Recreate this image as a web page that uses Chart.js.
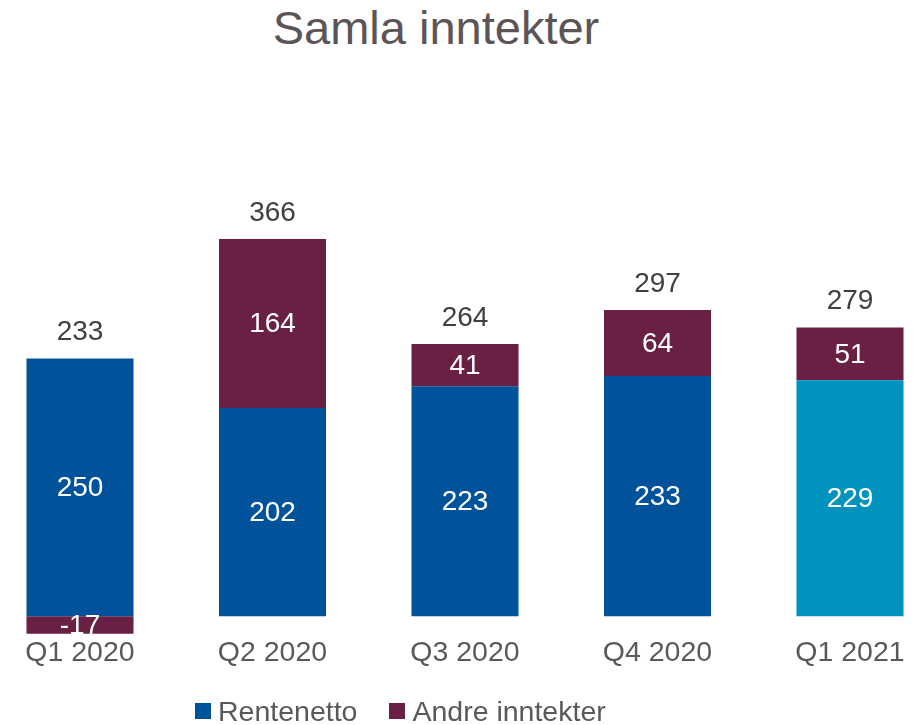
<!DOCTYPE html>
<html lang="no">
<head>
  <meta charset="UTF-8" />
  <title>Samla inntekter</title>
  <script src="https://cdn.jsdelivr.net/npm/chart.js"></script>
  <style>
    body {
      margin: 0;
      font-family: "Liberation Sans", Arial, sans-serif;
      background: #fff;
    }
    #wrap {
      position: relative;
      width: 920px;
      height: 725px;
    }
    #tittel {
      position: absolute;
      left: 0;
      top: 4px;
      width: 872px;
      text-align: center;
      font-size: 47px;
      line-height: 48px;
      color: #5b5557;
      margin: 0;
      font-weight: normal;
    }
    #grafikk {
      position: absolute;
      left: 0;
      top: 0;
    }
    #forklaring {
      position: absolute;
      left: 195px;
      top: 694px;
      display: flex;
      align-items: center;
      font-size: 28.5px;
      color: #595959;
      line-height: 34px;
    }
    #forklaring span.boks {
      display: inline-block;
      width: 16px;
      height: 16px;
      margin-right: 7px;
    }
    #forklaring .post {
      display: flex;
      align-items: center;
      margin-right: 32px;
    }
  </style>
</head>
<body>
  <div id="wrap">
    <h1 id="tittel">Samla inntekter</h1>
    <canvas id="grafikk" width="920" height="725"></canvas>
    <div id="forklaring"></div>
  </div>

  <script>
    const kvartal = ['Q1 2020', 'Q2 2020', 'Q3 2020', 'Q4 2020', 'Q1 2021'];
    const rentenetto = [250, 202, 223, 233, 229];
    const andreInntekter = [-17, 164, 41, 64, 51];
    const totalt = [233, 366, 264, 297, 279];
    const serieNavn = ['Rentenetto', 'Andre inntekter'];

    const blaa = '#00529b';
    const lyseblaa = '#0093be';
    const vinrod = '#6a1f45';

    // verdier i søylene og totalsum over
    const etiketter = {
      id: 'etiketter',
      afterDatasetsDraw(chart) {
        const ctx = chart.ctx;
        ctx.save();
        ctx.textAlign = 'center';
        ctx.textBaseline = 'middle';
        ctx.font = '28px "Liberation Sans", Arial, sans-serif';
        ctx.fillStyle = '#ffffff';
        chart.data.datasets.forEach((ds, i) => {
          chart.getDatasetMeta(i).data.forEach((el, j) => {
            ctx.fillText(ds.data[j], el.x, (el.y + el.base) / 2 + 1);
          });
        });
        ctx.fillStyle = '#404040';
        totalt.forEach((v, j) => {
          let topp = Infinity;
          chart.data.datasets.forEach((ds, i) => {
            const el = chart.getDatasetMeta(i).data[j];
            topp = Math.min(topp, el.y, el.base);
          });
          ctx.fillText(v, chart.getDatasetMeta(0).data[j].x, topp - 26);
        });
        ctx.restore();
      }
    };

    const chart = new Chart(document.getElementById('grafikk').getContext('2d'), {
      type: 'bar',
      data: {
        labels: kvartal,
        datasets: [{
          label: serieNavn[0],
          data: rentenetto,
          backgroundColor: (c) => c.dataIndex === 4 ? lyseblaa : blaa,
          categoryPercentage: 0.556,
          barPercentage: 1,
          clip: false
        }, {
          label: serieNavn[1],
          data: andreInntekter,
          backgroundColor: vinrod,
          categoryPercentage: 0.556,
          barPercentage: 1,
          clip: false
        }]
      },
      options: {
        responsive: false,
        animation: false,
        layout: {
          padding: { left: 80, right: 70, top: 209, bottom: 53 }
        },
        scales: {
          x: {
            stacked: true,
            offset: false,
            grid: { display: false, drawTicks: false },
            border: { display: false },
            ticks: {
              color: '#595959',
              font: { size: 28.5, family: '"Liberation Sans", Arial, sans-serif' },
              padding: 2,
              autoSkip: false,
              maxRotation: 0
            }
          },
          y: {
            stacked: true,
            display: false,
            min: -17,
            max: 395
          }
        },
        plugins: {
          legend: { display: false },
          title: { display: false },
          tooltip: { enabled: false }
        }
      },
      plugins: [etiketter]
    });

    // forklaring
    const farger = [blaa, vinrod];
    const forklaring = document.getElementById('forklaring');
    serieNavn.forEach((navn, i) => {
      const post = document.createElement('div');
      post.className = 'post';
      post.innerHTML = '<span class="boks" style="background:' + farger[i] + '"></span>' + navn;
      forklaring.appendChild(post);
    });
  </script>
</body>
</html>
